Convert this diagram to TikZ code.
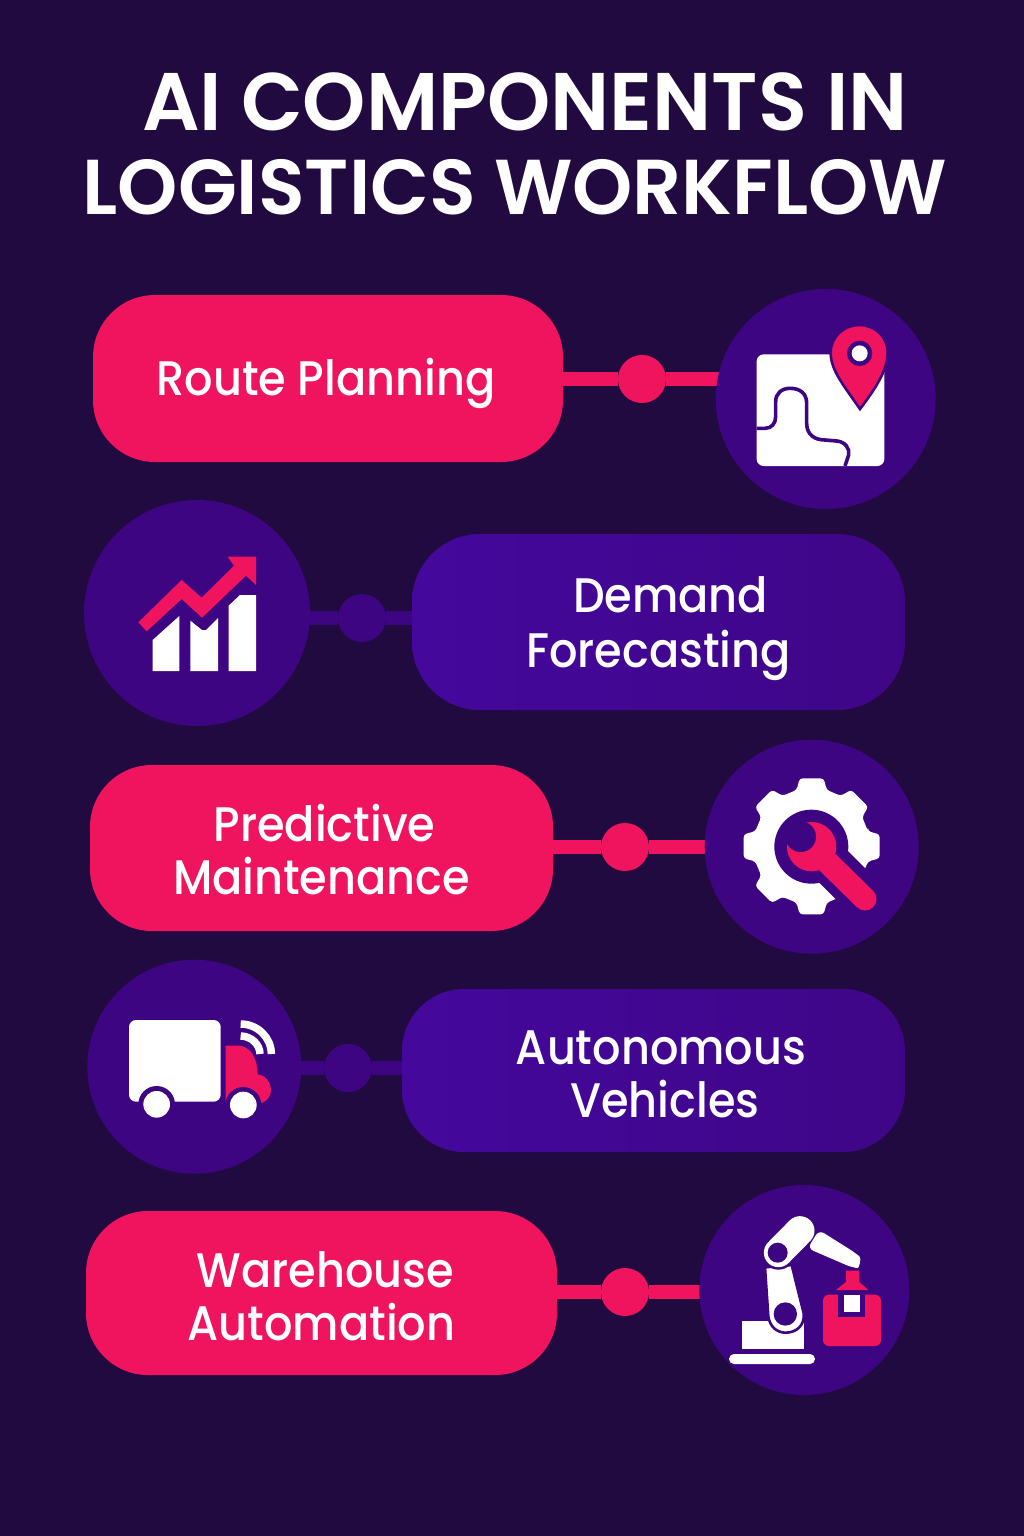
\documentclass[tikz,border=0pt]{standalone}
\usepackage{fontspec}
\setmainfont{Poppins Medium}[FakeStretch=0.92]
\newfontfamily\titlefont{Poppins SemiBold}[FakeStretch=0.985]
\usetikzlibrary{backgrounds}
\definecolor{bgc}{HTML}{210A40}
\definecolor{pinkc}{HTML}{F0145F}
\definecolor{purc}{HTML}{3D0582}
\definecolor{purl}{HTML}{44089C}
\newcommand{\liftline}[1]{\rule{0pt}{#1pt}}
\tikzset{
  pillbase/.style={rectangle,inner sep=0pt,outer sep=0pt,text=white,align=center,font=\fontsize{48.5}{53}\selectfont},
  pinkpill/.style={pillbase,fill=pinkc},
  purppill/.style={pillbase,left color=purl,right color=purc!80!purl},
  badge/.style={circle,fill=purc,inner sep=0pt,outer sep=0pt},
  pinkdot/.style={circle,fill=pinkc,inner sep=0pt,outer sep=0pt,minimum size=48pt},
  purpdot/.style={circle,fill=purc,inner sep=0pt,outer sep=0pt,minimum size=48pt},
  pinklink/.style={draw=pinkc,line width=14pt},
  purplink/.style={draw=purc,line width=14pt},
  titletext/.style={text=white,inner sep=0pt}
}
\begin{document}
\begin{tikzpicture}[x=1pt,y=-1pt]
\useasboundingbox (0,0) rectangle (1024,1536);
\node[titletext,font=\titlefont\fontsize{81.7}{86}\selectfont] (t1) at (525,102) {AI COMPONENTS IN};
\node[titletext,font=\titlefont\fontsize{77.8}{86}\selectfont] (t2) at (515,187) {LOGISTICS WORKFLOW};
% pills
\node[pinkpill,rounded corners=62pt,minimum width=470pt,minimum height=167pt] (p1) at (328,378.5) {\liftline{48}Route Planning\hspace{4pt}};
\node[purppill,rounded corners=68pt,minimum width=493pt,minimum height=176pt] (p2) at (658.5,622) {\liftline{49}\hspace{24pt}Demand\\[2pt]Forecasting};
\node[pinkpill,rounded corners=62pt,minimum width=463pt,minimum height=166pt] (p3) at (321.5,848) {\liftline{40}\hspace{6pt}Predictive\\Maintenance};
\node[purppill,rounded corners=62pt,minimum width=503pt,minimum height=163pt] (p4) at (653.5,1070.5) {\liftline{42}\hspace{15pt}Autonomous\\\hspace{23pt}Vehicles};
\node[pinkpill,rounded corners=62pt,minimum width=471pt,minimum height=164pt] (p5) at (321.5,1293) {\liftline{42}\hspace{8pt}Warehouse\\Automation};
% badges
\node[badge,minimum size=220pt] (c1) at (825.7,399) {};
\node[badge,minimum size=226pt] (c2) at (197,613) {};
\node[badge,minimum size=214pt] (c3) at (811.7,846.7) {};
\node[badge,minimum size=214pt] (c4) at (194.3,1066.7) {};
\node[badge,minimum size=210pt] (c5) at (804.3,1290) {};
% dots
\node[pinkdot] (d1) at (642,379) {};
\node[purpdot] (d2) at (362,618) {};
\node[pinkdot] (d3) at (625,847) {};
\node[purpdot] (d4) at (348,1068) {};
\node[pinkdot] (d5) at (625,1292) {};
\begin{scope}[on background layer]
\fill[bgc] (0,0) rectangle (1024,1536);
\draw[pinklink] (p1.east |- d1) -- (d1) -- (d1 -| c1.center);
\draw[purplink] (p2.west |- d2) -- (d2) -- (d2 -| c2.center);
\draw[pinklink] (p3.east |- d3) -- (d3) -- (d3 -| c3.center);
\draw[purplink] (p4.west |- d4) -- (d4) -- (d4 -| c4.center);
\draw[pinklink] (p5.east |- d5) -- (d5) -- (d5 -| c5.center);
\end{scope}
% map icon
\begin{scope}[shift={(710,285)},scale=1/3]
\fill[white,rounded corners=7pt] (140,208) rectangle (523,543);
\draw[purc,line width=3.6pt] (140,430) -- (165,430) .. controls (185,430) and (197,415) .. (197,395) -- (197,350) .. controls (197,325) and (215,310) .. (240,310) .. controls (270,310) and (290,325) .. (290,355) -- (290,415) .. controls (290,450) and (315,465) .. (345,465) -- (380,468) .. controls (405,470) and (420,490) .. (416,510) -- (405,543);
\path[fill=pinkc,draw=purc,line width=2.6pt] (450,372) .. controls (400,300) and (362,255) .. (362,203) .. controls (362,155) and (402,120) .. (448,120) .. controls (495,120) and (533,155) .. (533,203) .. controls (533,255) and (497,310) .. (450,372) -- cycle;
\fill[purc] (449,205) circle[radius=38];
\fill[white] (449,205) circle[radius=24];
\end{scope}
% chart icon
\begin{scope}[shift={(80,500)},scale=1/3]
\fill[white] (218,513) -- (218,420) -- (298,348) -- (298,513) -- cycle;
\fill[white] (331,513) -- (331,362) -- (366,390) -- (378,390) -- (414,354) -- (414,513) -- cycle;
\fill[white] (446,513) -- (446,317) -- (480,285) -- (528,285) -- (528,513) -- cycle;
\fill[pinkc] (175,367) -- (305,240) -- (365,293) -- (462,197) -- (443,170) -- (528,170) -- (528,255) -- (498,227) -- (366,353) -- (305,297) -- (200,394) -- cycle;
\end{scope}
% gear icon
\begin{scope}[shift={(700,735)},scale=1/3]
\begin{scope}[shift={(335,334)}]
\fill[white,rounded corners=3pt] (-15:175)
 \foreach \a in {0,45,...,315}{ -- (\a-15:175) -- (\a-10:207) -- (\a+10:207) -- (\a+15:175)} -- cycle;
\end{scope}
\fill[purc] (334,335) circle[radius=111];
\draw[purc,line width=42.6pt] (335,330) -- (560,555);
\fill[pinkc] (335,335) circle[radius=74];
\draw[pinkc,line width=23pt,line cap=round] (340,340) -- (495,492);
\fill[purc] (302,305) circle[radius=46];
\fill[purc] (262,316) -- (308,265) -- (270,250) -- (245,290) -- cycle;
\end{scope}
% truck icon
\begin{scope}[shift={(85,955)},scale=1/3]
\fill[white,rounded corners=7pt] (132,195) rectangle (407,440);
\fill[pinkc] (422,272) -- (460,272) .. controls (495,272) and (518,310) .. (518,358) .. controls (545,362) and (558,385) .. (558,405) .. controls (558,425) and (545,438) .. (530,444) -- (422,444) -- cycle;
\fill[purc] (215,448) circle[radius=55];
\fill[white] (215,448) circle[radius=40];
\fill[purc] (475,450) circle[radius=54];
\fill[white] (475,450) circle[radius=40];
\draw[white,line width=7.5pt] (467,207) .. controls (518,207) and (559,248) .. (559,297);
\draw[white,line width=7.5pt] (467,243) .. controls (498,243) and (525,268) .. (525,297);
\end{scope}
% robot icon
\begin{scope}[shift={(695,1180)},scale=1/3]
\fill[white,rounded corners=5pt] (102,522) rectangle (360,552);
\fill[white] (140,422) -- (326,422) -- (326,507) -- (140,507) -- cycle;
\path[fill=white,draw=purc,line width=2.6pt] (210,262) -- (290,255) -- (326,400) .. controls (330,435) and (305,458) .. (272,458) .. controls (245,458) and (225,440) .. (220,410) -- cycle;
\fill[purc] (271,402) circle[radius=35];
\draw[purc,line width=34pt,line cap=round] (250,218) -- (318,150);
\draw[white,line width=29pt,line cap=round] (250,218) -- (315,152);
\fill[purc] (248,218) circle[radius=30];
\fill[white,rounded corners=6pt] (338,205) -- (372,150) -- (480,218) .. controls (500,235) and (492,265) .. (470,262) -- cycle;
\fill[pinkc] (453,272) -- (493,272) -- (493,306) -- (520,330) -- (423,330) -- (453,306) -- cycle;
\fill[pinkc,rounded corners=6pt] (384,344) rectangle (558,498);
\fill[purc] (430,340) rectangle (510,410);
\fill[white] (447,345) rectangle (495,397);
\end{scope}
\end{tikzpicture}
\end{document}
